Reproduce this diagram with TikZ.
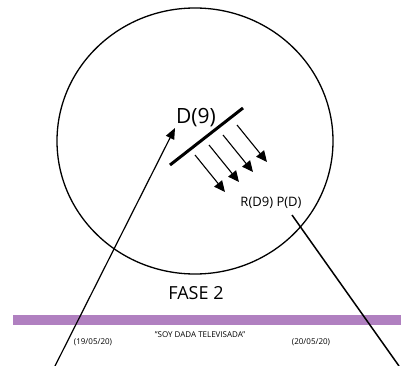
\documentclass[tikz,border=0pt]{standalone}
\usepackage{fontspec}
\setmainfont{Open Sans}
\usetikzlibrary{arrows.meta}
\definecolor{bandpurple}{RGB}{176,128,192}
\begin{document}
\begin{tikzpicture}[x=1pt,y=-1pt,
  tip/.style={-{Triangle[length=11pt,width=9pt]}},
  flowarrow/.style={line width=1.1pt,-{Triangle[length=11pt,width=10pt]}},
  lbl/.style={inner sep=0pt,text=black}]
\useasboundingbox (0,0) rectangle (401,366);
% circle
\draw[line width=1.3pt] (195,141) ellipse [x radius=138, y radius=133];
% band
\fill[bandpurple] (13,315) rectangle (401,325);
% labels
\node[lbl,font=\fontsize{21}{21}\selectfont] (d9) at (196,118) {D(9)};
\node[lbl,font=\fontsize{13}{13}\selectfont] (rp) at (271,203) {R(D9) P(D)};
\node[lbl,font=\fontsize{18}{18}\selectfont] (fase) at (196,293) {FASE 2};
\node[lbl,font=\fontsize{8}{8}\selectfont] (d1) at (93,342) {(19/05/20)};
\node[lbl,font=\fontsize{8}{8}\selectfont] (soy) at (200,335) {"SOY DADA TELEVISADA"};
\node[lbl,font=\fontsize{8}{8}\selectfont] (d2) at (311,342) {(20/05/20)};
% thick barrier
\coordinate (b1) at (170,165);
\coordinate (b2) at (243,108);
\draw[line width=3pt] (b1) -- (b2);
% four arrows
\foreach \i/\sx/\sy in {1/195/155,2/209/145,3/223/135,4/237/125}{
  \coordinate (s\i) at (\sx,\sy);
  \coordinate (e\i) at (\sx+30,\sy+37);
  \draw[flowarrow] (s\i) -- (e\i);
}
% long arrow from bottom left
\coordinate (la) at (55,366);
\coordinate (lt) at (175,128);
\draw[line width=1.2pt,tip] (la) -- (lt);
% line from R(D9) P(D) to bottom right
\coordinate (ra) at (292,215);
\coordinate (rb) at (399,366);
\draw[line width=1.5pt] (ra) -- (rb);
\end{tikzpicture}
\end{document}
